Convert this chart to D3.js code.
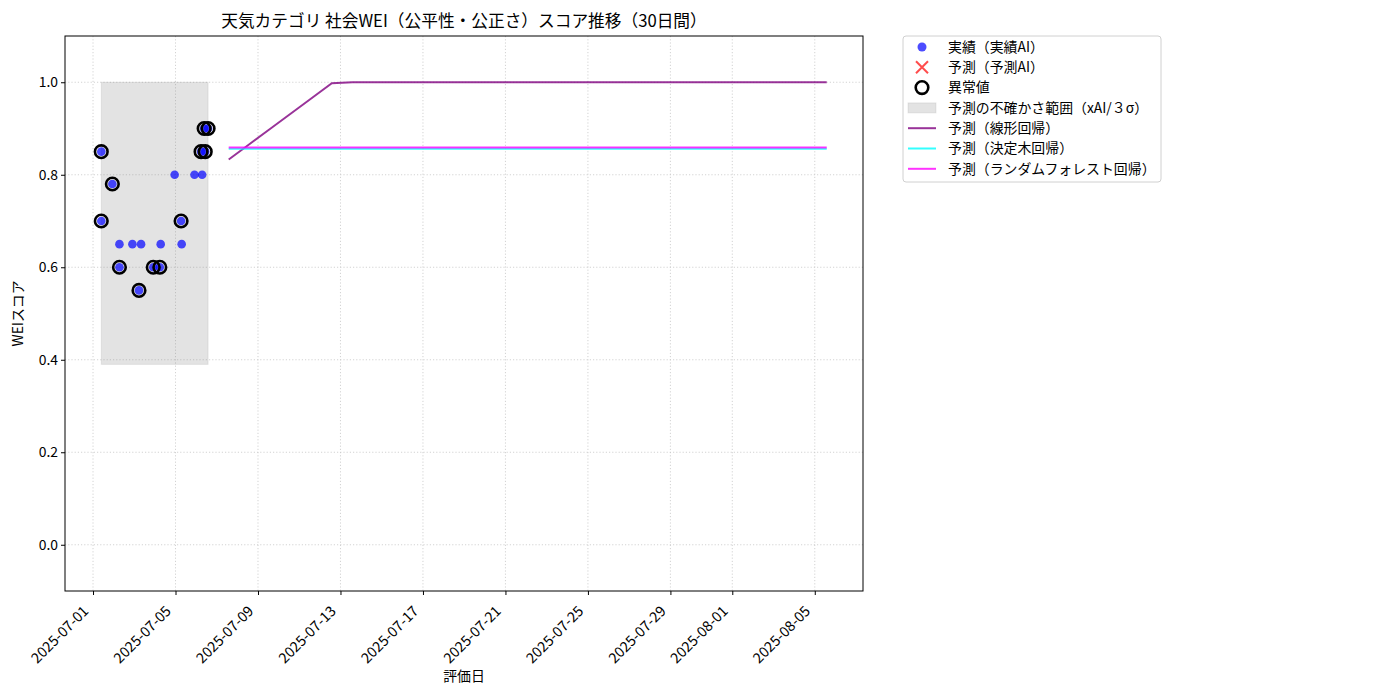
<!DOCTYPE html>
<html>
<head>
<meta charset="utf-8">
<script src="https://cdn.jsdelivr.net/npm/d3@7"></script>
<style>
  body { margin: 0; background: #fff; }
  svg text { font-family: "Noto Sans CJK JP", "Noto Sans", sans-serif; }
</style>
</head>
<body>
<div id="chart"></div>
<script>
// data
var actualDates = ["2025-07-01T09:36", "2025-07-01T09:36", "2025-07-01T22:30", "2025-07-02T06:45", "2025-07-02T06:45",
  "2025-07-02T21:50", "2025-07-03T05:30", "2025-07-03T07:55", "2025-07-03T22:05", "2025-07-04T05:45",
  "2025-07-04T06:45", "2025-07-04T23:00", "2025-07-05T06:30", "2025-07-05T07:10", "2025-07-05T22:05",
  "2025-07-06T05:45", "2025-07-06T07:00", "2025-07-06T09:20", "2025-07-06T10:35", "2025-07-06T13:55"];
var actualScores = [0.85, 0.70, 0.78, 0.65, 0.60,
  0.65, 0.55, 0.65, 0.60, 0.60,
  0.65, 0.80, 0.70, 0.65, 0.80,
  0.85, 0.80, 0.90, 0.85, 0.90];
var anomalyFlags = [1, 1, 1, 0, 1,
  0, 1, 0, 1, 1,
  0, 0, 1, 0, 0,
  1, 0, 1, 1, 1];

var bandLower = 0.39;
var bandUpper = 1.0;

// 30 daily predictions starting one day after the last actual
var predStart = "2025-07-07T13:55";
var linearPred = [0.833, 0.866, 0.899, 0.932, 0.965, 0.998, 1.0, 1.0, 1.0, 1.0,
  1.0, 1.0, 1.0, 1.0, 1.0, 1.0, 1.0, 1.0, 1.0, 1.0,
  1.0, 1.0, 1.0, 1.0, 1.0, 1.0, 1.0, 1.0, 1.0, 1.0];
var treePred = [0.856, 0.856, 0.856, 0.856, 0.856, 0.856, 0.856, 0.856, 0.856, 0.856,
  0.856, 0.856, 0.856, 0.856, 0.856, 0.856, 0.856, 0.856, 0.856, 0.856,
  0.856, 0.856, 0.856, 0.856, 0.856, 0.856, 0.856, 0.856, 0.856, 0.856];
var forestPred = [0.859, 0.859, 0.859, 0.859, 0.859, 0.859, 0.859, 0.859, 0.859, 0.859,
  0.859, 0.859, 0.859, 0.859, 0.859, 0.859, 0.859, 0.859, 0.859, 0.859,
  0.859, 0.859, 0.859, 0.859, 0.859, 0.859, 0.859, 0.859, 0.859, 0.859];

var xTickLabels = ["2025-07-01", "2025-07-05", "2025-07-09", "2025-07-13", "2025-07-17",
  "2025-07-21", "2025-07-25", "2025-07-29", "2025-08-01", "2025-08-05"];
var yTickValues = [0.0, 0.2, 0.4, 0.6, 0.8, 1.0];

var legendLabels = ["実績（実績AI）", "予測（予測AI）", "異常値", "予測の不確かさ範囲（xAI/３σ）",
  "予測（線形回帰）", "予測（決定木回帰）", "予測（ランダムフォレスト回帰）"];

var svgWidth = 1400;
var svgHeight = 700;
var margin = { top: 36, right: 537, bottom: 109, left: 65 };
var width = svgWidth - margin.left - margin.right;
var height = svgHeight - margin.top - margin.bottom;

var parseTime = d3.timeParse("%Y-%m-%dT%H:%M");
var parseDay = d3.timeParse("%Y-%m-%d");

var actual = actualDates.map(function(d, i) {
  return { date: parseTime(d), score: actualScores[i], anomaly: anomalyFlags[i] === 1 };
});
var startPred = parseTime(predStart);
var predDates = linearPred.map(function(v, i) { return d3.timeDay.offset(startPred, i); });

var svg = d3.select("#chart").append("svg")
  .attr("width", svgWidth)
  .attr("height", svgHeight);

var chartGroup = svg.append("g")
  .attr("transform", `translate(${margin.left}, ${margin.top})`);

// x domain with matplotlib-like 5% margins
var tMin = d3.min(actual, d => d.date);
var tMax = predDates[predDates.length - 1];
var pad = (tMax - tMin) * 0.05;
var xScale = d3.scaleTime()
  .domain([new Date(+tMin - pad), new Date(+tMax + pad)])
  .range([0, width]);

var yScale = d3.scaleLinear()
  .domain([-0.1, 1.1])
  .range([height, 0]);

var xTicks = xTickLabels.map(parseDay);

// grid
chartGroup.append("g")
  .selectAll("line")
  .data(xTicks)
  .enter().append("line")
  .attr("x1", d => xScale(d)).attr("x2", d => xScale(d))
  .attr("y1", 0).attr("y2", height)
  .attr("stroke", "#c8c8c8").attr("stroke-width", 0.8).attr("stroke-dasharray", "1.2,2");

chartGroup.append("g")
  .selectAll("line")
  .data(yTickValues)
  .enter().append("line")
  .attr("x1", 0).attr("x2", width)
  .attr("y1", d => yScale(d)).attr("y2", d => yScale(d))
  .attr("stroke", "#c8c8c8").attr("stroke-width", 0.8).attr("stroke-dasharray", "1.2,2");

// uncertainty band over the actual period
chartGroup.append("rect")
  .attr("x", xScale(tMin))
  .attr("y", yScale(bandUpper))
  .attr("width", xScale(d3.max(actual, d => d.date)) - xScale(tMin))
  .attr("height", yScale(bandLower) - yScale(bandUpper))
  .attr("fill", "#808080")
  .attr("fill-opacity", 0.22)
  .attr("stroke", "#808080")
  .attr("stroke-opacity", 0.15);

// actual points
chartGroup.append("g")
  .selectAll("circle")
  .data(actual)
  .enter().append("circle")
  .attr("cx", d => xScale(d.date))
  .attr("cy", d => yScale(d.score))
  .attr("r", 4.3)
  .attr("fill", "#0000ff")
  .attr("fill-opacity", 0.7);

// prediction lines
var predLine = function(values) {
  return d3.line()
    .x((d, i) => xScale(predDates[i]))
    .y(d => yScale(d))(values);
};

chartGroup.append("path")
  .attr("d", predLine(linearPred))
  .attr("fill", "none")
  .attr("stroke", "#800080").attr("stroke-opacity", 0.8)
  .attr("stroke-width", 2);

chartGroup.append("path")
  .attr("d", predLine(treePred))
  .attr("fill", "none")
  .attr("stroke", "#00ffff").attr("stroke-opacity", 0.8)
  .attr("stroke-width", 2);

chartGroup.append("path")
  .attr("d", predLine(forestPred))
  .attr("fill", "none")
  .attr("stroke", "#ff00ff").attr("stroke-opacity", 0.8)
  .attr("stroke-width", 2);

// anomaly rings
chartGroup.append("g")
  .selectAll("circle")
  .data(actual.filter(d => d.anomaly))
  .enter().append("circle")
  .attr("cx", d => xScale(d.date))
  .attr("cy", d => yScale(d.score))
  .attr("r", 6.3)
  .attr("fill", "none")
  .attr("stroke", "#000")
  .attr("stroke-width", 2.6);

// axes
var bottomAxis = d3.axisBottom(xScale)
  .tickValues(xTicks)
  .tickFormat(d3.timeFormat("%Y-%m-%d"))
  .tickSize(4);
var leftAxis = d3.axisLeft(yScale)
  .tickValues(yTickValues)
  .tickFormat(d3.format(".1f"))
  .tickSize(4);

var xAxisG = chartGroup.append("g")
  .attr("transform", `translate(0, ${height})`)
  .call(bottomAxis);
xAxisG.select(".domain").remove();
xAxisG.selectAll("text")
  .attr("font-size", 14.4)
  .attr("fill", "#000")
  .style("text-anchor", "end")
  .attr("dx", "0")
  .attr("dy", "0")
  .attr("y", 0)
  .attr("transform", "translate(-4, 21) rotate(-45)");

var yAxisG = chartGroup.append("g").call(leftAxis);
yAxisG.select(".domain").remove();
yAxisG.selectAll("text").attr("font-size", 13.9).attr("fill", "#000").attr("x", -7);

// frame
chartGroup.append("rect")
  .attr("width", width).attr("height", height)
  .attr("fill", "none").attr("stroke", "#000").attr("stroke-width", 1);

// labels
chartGroup.append("text")
  .attr("x", width / 2).attr("y", -9)
  .attr("text-anchor", "middle")
  .attr("font-size", 16.7)
  .text("天気カテゴリ 社会WEI（公平性・公正さ）スコア推移（30日間）");

chartGroup.append("text")
  .attr("x", width / 2).attr("y", height + 90)
  .attr("text-anchor", "middle")
  .attr("font-size", 13.9)
  .text("評価日");

chartGroup.append("text")
  .attr("transform", "rotate(-90)")
  .attr("x", -height / 2).attr("y", -42)
  .attr("text-anchor", "middle")
  .attr("font-size", 13.9)
  .text("WEIスコア");

// legend
var legend = svg.append("g").attr("transform", "translate(903, 36)");
legend.append("rect")
  .attr("width", 258).attr("height", 146)
  .attr("rx", 3)
  .attr("fill", "#fff").attr("stroke", "#d0d0d0");

var rowY = function(i) { return 11 + i * 20.3; };

legend.append("circle").attr("cx", 19).attr("cy", rowY(0)).attr("r", 4.5)
  .attr("fill", "#0000ff").attr("fill-opacity", 0.7);
legend.append("path")
  .attr("d", `M${13},${rowY(1) - 6}L${25},${rowY(1) + 6}M${13},${rowY(1) + 6}L${25},${rowY(1) - 6}`)
  .attr("stroke", "#ff0000").attr("stroke-opacity", 0.7).attr("stroke-width", 2);
legend.append("circle").attr("cx", 19).attr("cy", rowY(2)).attr("r", 6.3)
  .attr("fill", "none").attr("stroke", "#000").attr("stroke-width", 2.6);
legend.append("rect").attr("x", 5).attr("y", rowY(3) - 5).attr("width", 28).attr("height", 10)
  .attr("fill", "#808080").attr("fill-opacity", 0.22)
  .attr("stroke", "#808080").attr("stroke-opacity", 0.15);
var legendLineColors = ["#800080", "#00ffff", "#ff00ff"];
legendLineColors.forEach(function(c, k) {
  legend.append("line")
    .attr("x1", 5).attr("x2", 33)
    .attr("y1", rowY(4 + k)).attr("y2", rowY(4 + k))
    .attr("stroke", c).attr("stroke-opacity", 0.8).attr("stroke-width", 2);
});

legend.selectAll("text.lbl")
  .data(legendLabels)
  .enter().append("text")
  .attr("class", "lbl")
  .attr("x", 45)
  .attr("y", (d, i) => rowY(i))
  .attr("dy", "0.35em")
  .attr("font-size", 13.9)
  .text(d => d);
</script>
</body>
</html>
